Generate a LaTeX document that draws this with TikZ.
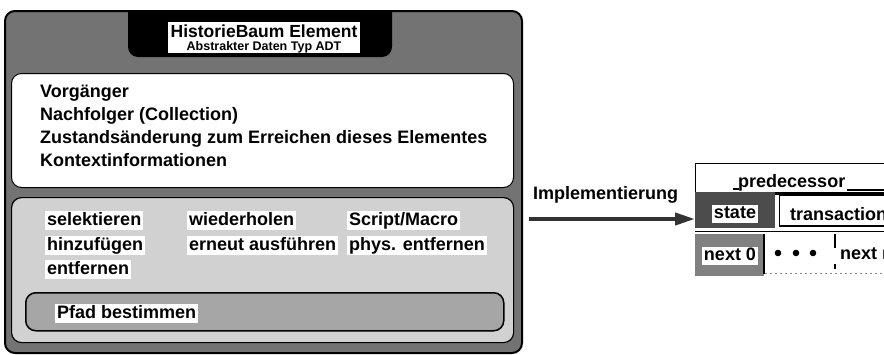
\documentclass[tikz,border=0pt]{standalone}
\usepackage{fontspec}
\setmainfont{Liberation Sans}
\usetikzlibrary{arrows.meta}
\begin{document}
\begin{tikzpicture}[x=1pt,y=-1pt,
  lbl/.style={font=\bfseries\fontsize{18}{20}\selectfont, inner sep=0pt, anchor=base west},
  tag/.style={font=\bfseries\fontsize{18}{20}\selectfont, fill=white, inner xsep=2pt, inner ysep=1pt,
              text height=12.8pt, text depth=3.6pt},
  box/.style={draw=black, rounded corners=10pt, inner sep=0pt, anchor=north west},
]
\useasboundingbox (0,0) rectangle (884,354);

% outer frame of the abstract data type
\node[box, line width=2pt, fill=black!55, minimum width=517pt, minimum height=342pt] (adt) at (4,10) {};

% black title tab with its white label
\fill[black, rounded corners=10pt] (128,10) -- (128,57) -- (392,57) -- (392,10);
\node[fill=white, inner sep=0pt, minimum width=192pt, minimum height=31pt, anchor=north west] (titlebox) at (168,22) {};
\node[font=\bfseries\fontsize{17.5}{18}\selectfont, inner sep=0pt, anchor=base] (title) at (264,37) {HistorieBaum Element};
\node[font=\bfseries\fontsize{12.5}{13}\selectfont, inner sep=0pt, anchor=base] (subtitle) at (264,50) {Abstrakter Daten Typ ADT};

% attributes panel
\node[box, line width=1pt, fill=white, minimum width=502pt, minimum height=114pt] (attr) at (11,73) {};
\node[lbl] (a1) at (40,97)  {Vorgänger};
\node[lbl] (a2) at (40,120) {Nachfolger (Collection)};
\node[lbl] (a3) at (40,143) {Zustandsänderung zum Erreichen dieses Elementes};
\node[lbl] (a4) at (40,166) {Kontextinformationen};

% operations panel
\node[box, line width=1.2pt, fill=black!18, minimum width=502pt, minimum height=145pt] (ops) at (11,197) {};
\node[tag, anchor=base west] (o1) at (45,225) {selektieren};
\node[tag, anchor=base west] (o2) at (45,250) {hinzufügen};
\node[tag, anchor=base west] (o3) at (45,274) {entfernen};
\node[tag, anchor=base west] (o4) at (187,225) {wiederholen};
\node[tag, anchor=base west] (o5) at (187,250) {erneut ausführen};
\node[tag, anchor=base west] (o6) at (347,225) {Script/Macro};
\node[tag, anchor=base west] (o7) at (347,250) {phys. entfernen};

% path operation
\node[box, line width=1.5pt, fill=black!35, minimum width=478pt, minimum height=38pt] (pfad) at (25,292) {};
\node[tag, anchor=base west] (pt) at (55,318) {Pfad bestimmen};

% implementation record, cut off at the right edge
\node[inner sep=0pt, minimum width=195pt, minimum height=113pt, anchor=north west] (impl) at (695,163) {};
\begin{scope}
\clip (impl.north west) rectangle (884,280);
\fill[white] (695,163) rectangle (895,193);
\draw[line width=1.5pt] (695,193) |- (895,163);
\draw[line width=1.2pt] (733,189) -- (739,189) (847,190) -- (895,190);
\node[lbl] (pred) at (738,187) {predecessor};
% row with state and transaction
\fill[black!70] (695,192) rectangle (775,228);
\fill[black] (775,192) rectangle (895,195);
\draw[line width=1.5pt, fill=white] (779.5,195) rectangle (900,226);
\node[tag] (state) at (735,214) {state};
\node[lbl] (trans) at (790,220) {transaction};
\draw[line width=1pt] (695,231) -- (895,231);
% row with successors
\fill[black!50] (695,234) rectangle (764,276);
\draw[line width=2pt] (764,234) -- (764,274);
\draw[black!45, line width=0.6pt, dash pattern=on 2pt off 3pt] (765,273) -- (895,273);
\node[tag] (next0) at (730,256) {next 0};
\fill (778,253) circle (3.3pt) (796,253) circle (3.3pt) (813,253) circle (3.3pt);
\draw[line width=2pt] (835,234) -- (835,248);
\draw[line width=1.5pt] (835,264) -- (835,269);
\node[lbl] (nextn) at (840,259) {next n};
\end{scope}

% implementation arrow
\coordinate (src) at ([xshift=6pt]adt.east |- 0,219);
\node[lbl] (impllbl) at (533,199) {Implementierung};
\draw[line width=4pt, black!80, -{Triangle[length=20pt,width=12pt]}] (src) -- (impl.west |- src);
\end{tikzpicture}
\end{document}
